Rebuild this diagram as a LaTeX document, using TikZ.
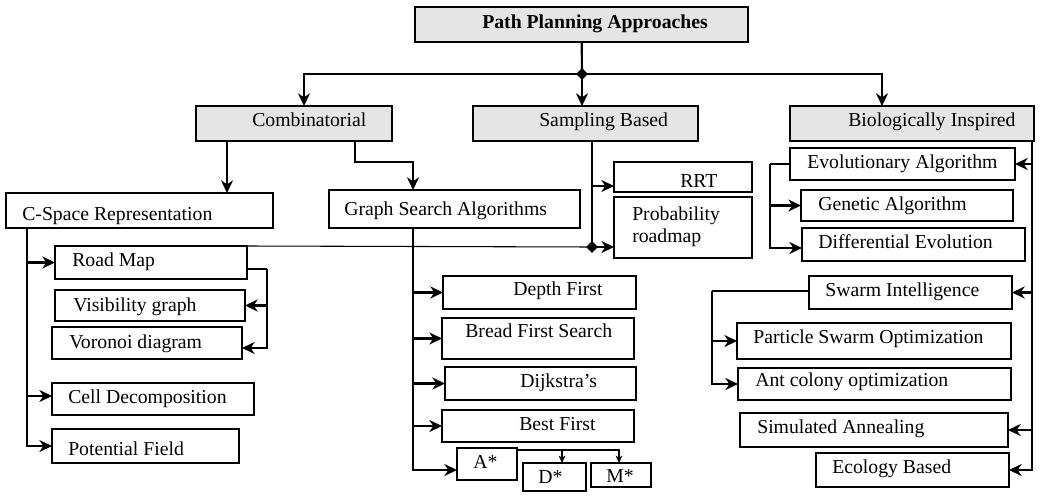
\documentclass[tikz,border=0pt]{standalone}
\usepackage{fontspec}
\setmainfont{Liberation Serif}
\usetikzlibrary{arrows.meta,shapes.geometric,calc}
\newcommand\mybox[9]{%
  \node[#2, minimum width={(#5-#3)*0.75pt}, minimum height={(#6-#4)*0.75pt}] (#1) at ({(#3+#5)/2},{(#4+#6)/2}) {};
  \node[txt] (#1t) at (#7,#8) {#9};}
\begin{document}
\begin{tikzpicture}[x=0.75pt,y=-0.75pt,
 bx/.style={draw,line width=1.7pt,inner sep=0pt,outer sep=0pt},
 gbx/.style={bx,fill=gray!20},
 txt/.style={anchor=mid west,inner sep=0pt,font=\fontsize{14.8}{16.5}\selectfont},
 ln/.style={line width=1.6pt},
 arr/.style={ln,-{Stealth[length=9.5pt,width=9pt,inset=3pt]}},
 sarr/.style={line width=1.1pt,-{Stealth[length=5.5pt,width=5pt,inset=1.5pt]}},
 dia/.style={diamond,fill=black,inner sep=0pt,minimum size=9pt}]
\useasboundingbox (0,0) rectangle (1055,503);

\mybox{top}{gbx}{415}{7}{748}{42}{482}{25.6}{\textbf{Path Planning Approaches}}
\mybox{comb}{gbx}{196}{106}{392}{141}{252}{123.6}{Combinatorial}
\mybox{samp}{gbx}{473}{106}{698}{141}{539}{123.6}{Sampling Based}
\mybox{bio}{gbx}{790}{106}{1034}{141}{848}{123.6}{Biologically Inspired}
\mybox{cspace}{bx}{6}{193}{273}{228}{22}{217}{C-Space Representation}
\mybox{graph}{bx}{329}{190}{580}{228}{344}{212}{Graph Search Algorithms}
\mybox{rrt}{bx}{614}{162}{752}{192}{680}{184.6}{RRT}
\mybox{prm}{bx}{614}{197}{752}{258}{632}{227}{}
\node[txt,anchor=west,align=left] (prmtext) at (632,227) {Probability\\roadmap};
\mybox{road}{bx}{55}{246}{247}{279}{72}{263.6}{Road Map}
\mybox{vis}{bx}{55}{290}{245}{321}{73}{308.6}{Visibility graph}
\mybox{vor}{bx}{52}{327}{242}{359}{69}{345.6}{Voronoi diagram}
\mybox{cell}{bx}{52}{383}{254}{415}{68}{400.6}{Cell Decomposition}
\mybox{pot}{bx}{52}{429}{239}{463}{68}{452}{Potential Field}
\mybox{depth}{bx}{443}{276}{636}{309}{513}{292.6}{Depth First}
\mybox{bread}{bx}{442}{318}{634}{359}{465}{334.6}{Bread First Search}
\mybox{dijk}{bx}{445}{367}{636}{400}{520}{384.6}{Dijkstra’s}
\mybox{best}{bx}{442}{410}{634}{442}{519}{427}{Best First}
\mybox{astar}{bx}{457}{448}{517}{480}{473}{465.6}{A*}
\mybox{dstar}{bx}{523}{463}{586}{491}{538}{480.6}{D*}
\mybox{mstar}{bx}{591}{463}{651}{487}{606}{479.6}{M*}
\mybox{evo}{bx}{790}{148}{1015}{180}{807}{165.6}{Evolutionary Algorithm}
\mybox{gen}{bx}{801}{190}{1013}{221}{818}{207}{Genetic Algorithm}
\mybox{diff}{bx}{802}{228}{1025}{261}{818}{245.6}{Differential Evolution}
\mybox{sw}{bx}{809}{276}{1012}{309}{825}{293.6}{Swarm Intelligence}
\mybox{pso}{bx}{737}{323}{1011}{359}{753}{340.6}{Particle Swarm Optimization}
\mybox{ant}{bx}{738}{368}{1011}{400}{755}{383.6}{Ant colony optimization}
\mybox{sim}{bx}{740}{413}{1008}{447}{757}{430.6}{Simulated Annealing}
\mybox{eco}{bx}{816}{453}{1009}{487}{832}{470.6}{Ecology Based}

% junction diamonds
\node[dia] (dj1) at ([shift={(0.5,32)}]top.south) {};
\node[dia] (dj2) at ([shift={(6.5,106)}]samp.south) {};

% top level
\draw[ln] (top) -- (dj1.center);
\draw[arr] (dj1.center) -| ([shift={(10,0)}]comb.north);
\draw[arr] (dj1.center) -- (dj1 |- samp.north);
\draw[arr] (dj1.center) -| ([shift={(-30,0)}]bio.north);

% combinatorial
\draw[arr] ([shift={(-67,0)}]comb.south) -- ([shift={(87.5,0)}]cspace.north);
\draw[arr] ([shift={(61,0)}]comb.south) -- ++(0,21) -| ([shift={(-41.5,0)}]graph.north);

% C-space
\coordinate (csx) at ([shift={(-112.5,0)}]cspace.south);
\draw[arr] (csx) |- (pot.west);
\draw[arr] (csx |- road.west) -- (road.west);
\coordinate (cellin) at ([shift={(0,-3)}]cell.west);
\draw[arr] (csx |- cellin) -- (cellin);

% road map bracket
\coordinate (rb) at ([shift={(20,6.5)}]road.east);
\draw[ln] ([shift={(0,6.5)}]road.east) -- (rb);
\draw[arr] (rb) |- ([shift={(0,5)}]vor.east);
\draw[arr] (rb |- vis.east) -- (vis.east);

% thin link road map -> probability roadmap
\draw[line width=0.8pt] (road.north east) -- (dj2.center);

% sampling
\draw[ln] ([shift={(6.5,0)}]samp.south) -- (dj2.center);
\coordinate (rrtin) at ([shift={(0,9)}]rrt.west);
\draw[arr] (dj2 |- rrtin) -- (rrtin);
\draw[arr] (dj2.center) -- (dj2 -| prm.west);

% graph search
\coordinate (gsx) at ([shift={(-41.5,0)}]graph.south);
\coordinate (ain) at ([shift={(0,6)}]astar.west);
\draw[arr] (gsx) |- (ain);
\foreach \n in {depth,bread,dijk,best}
  \draw[arr] (gsx |- \n.west) -- (\n.west);

\coordinate (aj) at ([shift={(0,2)}]astar.north east);
\coordinate (din) at ([shift={(7.5,0)}]dstar.north);
\coordinate (min) at ([shift={(-2,0)}]mstar.north);
\draw[sarr] (aj) -| (min);
\draw[sarr] (aj -| din) -- (din);

% biologically inspired
\coordinate (bix) at ([shift={(120,0)}]bio.south);
\draw[arr] (bix) |- (eco.east);
\foreach \n in {evo,sw,sim}
  \draw[arr] (bix |- \n.east) -- (\n.east);

\coordinate (ex) at ([shift={(-20,0)}]evo.west);
\draw[ln] (evo.west) -- (ex);
\draw[arr] (ex) |- ([shift={(0,3.5)}]diff.west);
\draw[arr] (ex |- gen.west) -- (gen.west);

\coordinate (sx) at ([shift={(-97,-1.5)}]sw.west);
\draw[ln] ([shift={(0,-1.5)}]sw.west) -- (sx);
\draw[arr] (sx) |- (ant.west);
\draw[arr] (sx |- pso.west) -- (pso.west);
\end{tikzpicture}
\end{document}
